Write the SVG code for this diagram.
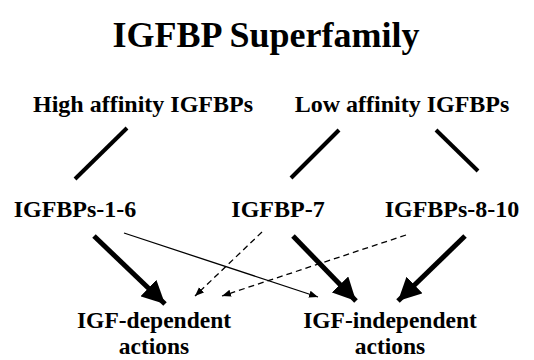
<svg xmlns="http://www.w3.org/2000/svg" width="534" height="360" viewBox="0 0 534 360">
<defs>
<style>
text{font-family:'Liberation Serif','Times New Roman',serif;font-weight:bold;fill:#000;text-anchor:middle}
.t{font-size:36px}
.n{font-size:24px}
.b{font-size:23.5px}
.ln{stroke:#000;stroke-width:4;fill:none}
.th{stroke:#000;stroke-width:5;fill:none}
.tn{stroke:#000;stroke-width:1.3;fill:none}
.ds{stroke:#000;stroke-width:1.3;fill:none;stroke-dasharray:6,4}
</style>
<marker id="big" viewBox="0 0 10 10" refX="10" refY="5" markerWidth="23" markerHeight="23" markerUnits="userSpaceOnUse" orient="auto"><path d="M0,0 L10,5 L0,10 z" fill="#000"/></marker>
<marker id="small" viewBox="0 0 10 10" refX="10" refY="5" markerWidth="9" markerHeight="9" markerUnits="userSpaceOnUse" orient="auto"><path d="M0,1 L10,5 L0,9 z" fill="#000"/></marker>
</defs>
<g id="title"><text class="t" x="266" y="47">IGFBP Superfamily</text></g>
<g id="high"><text class="n" x="143" y="112">High affinity IGFBPs</text></g>
<g id="low"><text class="n" x="402" y="112">Low affinity IGFBPs</text></g>
<g id="bp16"><text class="n" x="75" y="217">IGFBPs-1-6</text></g>
<g id="bp7"><text class="n" x="278" y="217">IGFBP-7</text></g>
<g id="bp810"><text class="n" x="452" y="217">IGFBPs-8-10</text></g>
<g id="dep"><text class="b" x="154" y="328">IGF-dependent</text><text class="b" x="154" y="354">actions</text></g>
<g id="indep"><text class="b" x="390" y="328">IGF-independent</text><text class="b" x="390" y="354">actions</text></g>
<g id="connectors">
<line class="ln" x1="127" y1="128" x2="75" y2="179"/>
<line class="ln" x1="339" y1="130" x2="291" y2="178"/>
<line class="ln" x1="436" y1="130" x2="478" y2="171"/>
<line class="th" x1="94" y1="236" x2="165" y2="304" marker-end="url(#big)"/>
<line class="th" x1="293" y1="236" x2="356" y2="301" marker-end="url(#big)"/>
<line class="th" x1="465" y1="236" x2="398" y2="301" marker-end="url(#big)"/>
<line class="tn" x1="124" y1="233" x2="318" y2="297" marker-end="url(#small)"/>
<line class="ds" x1="262" y1="232" x2="195" y2="296" marker-end="url(#small)"/>
<line class="ds" x1="406" y1="235" x2="222" y2="296" marker-end="url(#small)"/>
</g>
</svg>
